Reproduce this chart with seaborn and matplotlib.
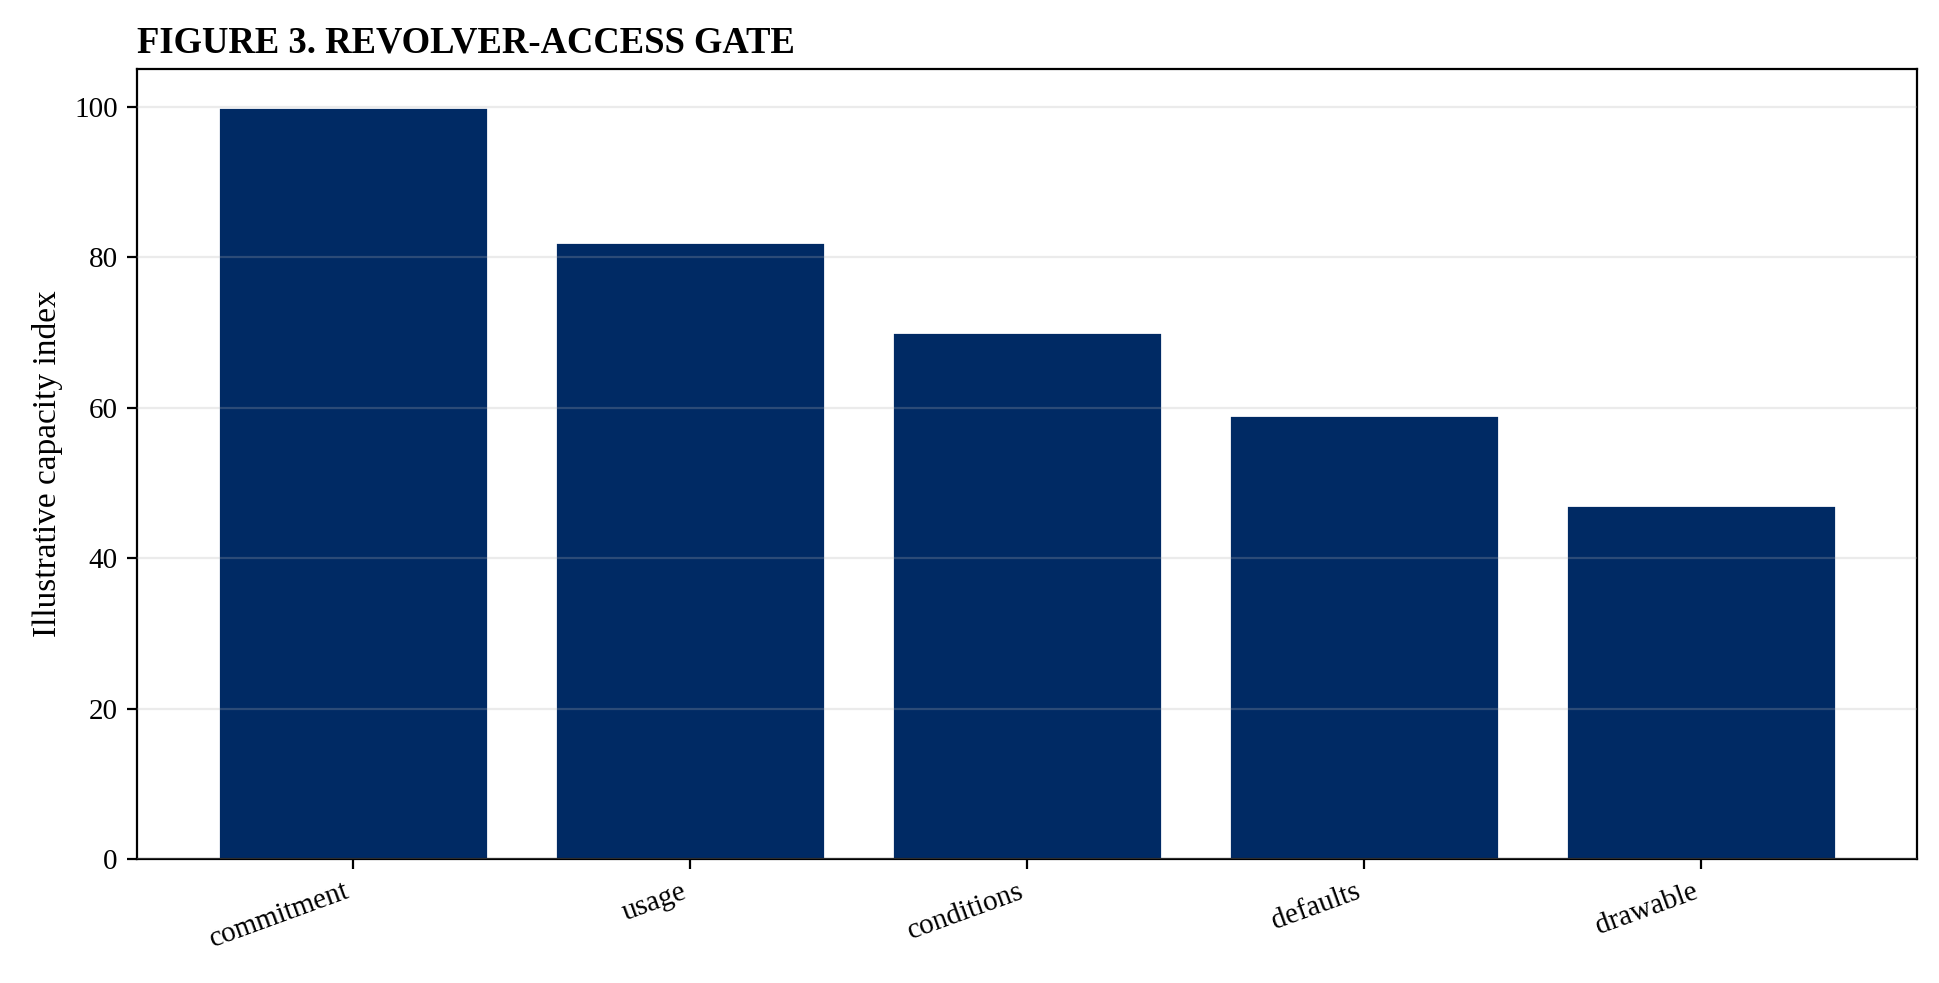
import matplotlib
matplotlib.use('Agg')
import matplotlib.pyplot as plt
import seaborn as sns
import pandas as pd

# Datos del grafico
categories = ['commitment', 'usage', 'conditions', 'defaults', 'drawable']
capacity = [100, 82, 70, 59, 47]

df = pd.DataFrame({'stage': categories, 'capacity': capacity})

sns.set_theme(style='white')
plt.rcParams['font.family'] = ['Liberation Serif', 'DejaVu Serif']
plt.rcParams['text.color'] = 'black'
plt.rcParams['axes.labelcolor'] = 'black'
plt.rcParams['xtick.color'] = 'black'
plt.rcParams['ytick.color'] = 'black'

fig, ax = plt.subplots(figsize=(9.695, 4.915), dpi=200)
fig.subplots_adjust(left=0.0707, right=0.9887, top=0.9298, bottom=0.1261)

sns.barplot(data=df, x='stage', y='capacity', color='#002a64', saturation=1,
            width=0.8, ax=ax)

ax.set_xlim(-0.64, 4.64)
ax.set_ylim(0, 105)
ax.set_yticks([0, 20, 40, 60, 80, 100])
ax.grid(axis='y', color='#b0b0b0', alpha=0.25, linewidth=0.8)
ax.set_axisbelow(False)

for side in ['top', 'right', 'left', 'bottom']:
    ax.spines[side].set_visible(True)
    ax.spines[side].set_color('black')
    ax.spines[side].set_linewidth(0.8)

ax.tick_params(axis='both', which='both', length=3.5, width=0.8, color='black',
               labelcolor='black', labelsize=10.5, left=True, bottom=True)
plt.setp(ax.get_xticklabels(), rotation=20, ha='right')

ax.set_xlabel('')
ax.set_ylabel('Illustrative capacity index', fontsize=12)
ax.set_title('FIGURE 3. REVOLVER-ACCESS GATE', loc='left', fontsize=13.2,
             fontweight='bold', pad=6)

fig.savefig('out.png', dpi=200)
